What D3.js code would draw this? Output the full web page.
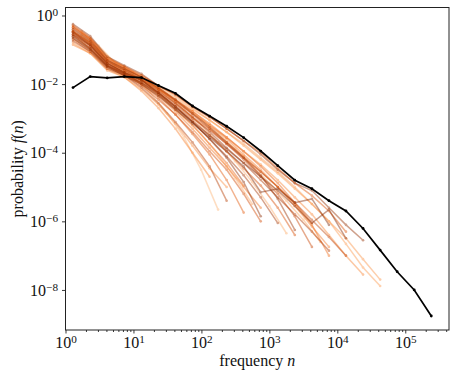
<!DOCTYPE html>
<html>
<head>
<meta charset="utf-8">
<script src="https://cdn.jsdelivr.net/npm/d3@7"></script>
<style>
  body { margin: 0; background: #fff; }
  svg { font-family: "Liberation Serif", serif; }
</style>
</head>
<body>
<div class="chart"></div>
<script>

// log-spaced bin centres (frequency n)
const binsN = [1.29, 2.31, 4.11, 7.33, 13.1, 23.3, 41.5, 74.0, 132, 235, 419, 746, 1330, 2370,
    4230, 7530, 13400, 23900, 42700, 76000, 135500, 241500]
// some groups were binned half a step later
const binsHalf = [1.73, 3.08, 5.49, 9.79, 17.5, 31.1, 55.5, 98.9, 176, 314, 560, 998, 1780, 3170, 5650]

// pooled distribution (black)
const totalF = [7.9e-3, 1.66e-2, 1.51e-2, 1.66e-2, 1.55e-2, 9.1e-3, 5.4e-3, 2.3e-3, 1.17e-3, 5.9e-4,
    2.75e-4, 1.12e-4, 4.2e-5, 1.58e-5, 8.9e-6, 4.0e-6, 2.0e-6, 6.2e-7, 1.45e-7, 3.4e-8, 1.0e-8, 1.74e-9]

// single groups on the half-step bins
const halfF = [
    [2.5e-1, 8.9e-2, 3.2e-2, 1.6e-2, 5.6e-3, 1.4e-3, 2.8e-4, 3.2e-5, 2.2e-6],
    [3.2e-1, 1.1e-1, 4.0e-2, 2.0e-2, 1.0e-2, 4.5e-3, 1.8e-3, 6.3e-4, 2.0e-4, 5.6e-5, 1.4e-5, 2.8e-6, 4.5e-7],
    [2.8e-1, 1.0e-1, 3.5e-2, 1.8e-2, 7.9e-3, 3.2e-3, 1.1e-3, 3.5e-4, 8.9e-5, 1.8e-5, 3.2e-6],
    [3.5e-1, 1.3e-1, 4.0e-2, 2.2e-2, 1.1e-2, 5.0e-3, 2.2e-3, 8.9e-4, 3.5e-4, 1.3e-4, 4.0e-5, 1.3e-5, 4.0e-6, 1.1e-6, 2.5e-7]
]

// single groups on the regular bins
const groupF = [
    [4.0e-1, 1.8e-1, 5.0e-2, 2.8e-2, 1.6e-2, 7.9e-3, 4.0e-3, 1.8e-3, 8.9e-4, 4.0e-4, 1.8e-4, 7.1e-5, 2.8e-5, 1.0e-5, 3.2e-6, 1.0e-6, 2.2e-7, 4.5e-8, 1.3e-8],
    [5.0e-1, 2.2e-1, 6.3e-2, 3.2e-2, 1.8e-2, 8.9e-3, 4.5e-3, 2.0e-3, 8.9e-4, 4.0e-4, 1.6e-4, 6.3e-5, 2.5e-5, 8.9e-6, 3.2e-6, 1.0e-6, 3.2e-7, 7.9e-8, 2.0e-8],
    [1.6e-1, 7.9e-2, 2.8e-2, 1.6e-2, 7.1e-3, 2.5e-3, 7.1e-4, 1.6e-4, 3.5e-5, 1.0e-5],
    [3.5e-1, 1.6e-1, 4.5e-2, 2.5e-2, 1.4e-2, 7.1e-3, 3.2e-3, 1.4e-3, 6.3e-4, 2.8e-4, 1.1e-4, 4.5e-5, 1.6e-5, 5.0e-6, 1.6e-6, 4.0e-7, 1.0e-7, 2.8e-8],
    [1.4e-1, 7.9e-2, 2.5e-2, 1.6e-2, 6.3e-3, 2.0e-3, 5.0e-4, 1.0e-4, 2.0e-5],
    [4.5e-1, 2.0e-1, 5.6e-2, 3.2e-2, 1.6e-2, 7.9e-3, 3.5e-3, 1.6e-3, 6.3e-4, 2.5e-4, 8.9e-5, 3.2e-5, 1.0e-5, 2.8e-6, 7.1e-7, 1.8e-7],
    [2.2e-1, 1.0e-1, 3.2e-2, 1.8e-2, 1.0e-2, 4.5e-3, 1.6e-3, 5.0e-4, 1.4e-4, 4.0e-5, 1.0e-5, 2.5e-6],
    [3.2e-1, 1.4e-1, 4.0e-2, 2.2e-2, 1.3e-2, 6.3e-3, 2.8e-3, 1.1e-3, 5.0e-4, 2.0e-4, 7.9e-5, 2.8e-5, 1.0e-5, 3.2e-6, 7.9e-7, 1.0e-7],
    [2.8e-1, 1.1e-1, 3.5e-2, 2.0e-2, 1.1e-2, 5.0e-3, 1.8e-3, 6.3e-4, 1.8e-4, 5.0e-5, 1.1e-5],
    [3.5e-1, 1.6e-1, 4.5e-2, 2.5e-2, 1.4e-2, 7.1e-3, 3.5e-3, 1.6e-3, 7.1e-4, 2.8e-4, 1.1e-4, 4.0e-5, 1.3e-5, 3.5e-6, 8.9e-7],
    [2.5e-1, 1.1e-1, 3.5e-2, 2.0e-2, 1.0e-2, 4.0e-3, 1.3e-3, 3.5e-4, 8.9e-5, 1.6e-5, 1.8e-6],
    [5.0e-1, 2.2e-1, 5.6e-2, 3.2e-2, 1.8e-2, 8.9e-3, 5.0e-3, 2.2e-3, 1.1e-3, 5.0e-4, 2.2e-4, 1.0e-4, 3.5e-5, 1.3e-5, 5.6e-6, 2.0e-6, 5.0e-7],
    [3.2e-1, 1.4e-1, 4.0e-2, 2.2e-2, 1.3e-2, 5.6e-3, 2.2e-3, 8.9e-4, 3.2e-4, 1.1e-4, 3.5e-5, 1.1e-5, 2.5e-6, 4.0e-7],
    [2.0e-1, 8.9e-2, 3.2e-2, 1.8e-2, 8.9e-3, 3.5e-3, 1.3e-3, 4.0e-4, 1.1e-4, 3.2e-5, 6.3e-6, 1.0e-6],
    [4.5e-1, 2.0e-1, 5.0e-2, 2.8e-2, 1.6e-2, 7.1e-3, 3.2e-3, 1.3e-3, 5.0e-4, 1.8e-4, 6.3e-5, 2.0e-5, 6.3e-6, 1.4e-6, 1.8e-7],
    [2.8e-1, 1.3e-1, 3.5e-2, 2.0e-2, 1.1e-2, 5.6e-3, 2.5e-3, 1.0e-3, 4.5e-4, 1.8e-4, 7.1e-5, 2.8e-5, 1.0e-5, 3.5e-6, 1.1e-6, 3.5e-7, 1.0e-7],
    [1.8e-1, 8.9e-2, 2.8e-2, 1.8e-2, 7.9e-3, 2.8e-3, 7.9e-4, 2.0e-4, 4.0e-5, 4.0e-6],
    [3.5e-1, 1.6e-1, 4.5e-2, 2.5e-2, 1.4e-2, 6.3e-3, 2.8e-3, 1.1e-3, 4.0e-4, 1.4e-4, 5.0e-5, 1.6e-5, 5.0e-6, 1.6e-6, 5.0e-7, 1.4e-7],
    [2.8e-1, 1.3e-1, 4.0e-2, 2.2e-2, 1.3e-2, 5.6e-3, 2.2e-3, 7.9e-4, 2.5e-4, 7.9e-5, 2.2e-5, 5.0e-6, 8.9e-7],
    [4.0e-1, 1.8e-1, 5.0e-2, 2.8e-2, 1.6e-2, 7.9e-3, 3.5e-3, 1.4e-3, 5.6e-4, 2.0e-4, 7.1e-5, 2.2e-5, 4.5e-6, 5.6e-7],
    [5.6e-1, 2.5e-1, 6.3e-2, 3.5e-2, 2.0e-2, 8.9e-3, 5.0e-3, 2.2e-3, 1.1e-3, 5.0e-4, 2.2e-4, 8.9e-5, 3.2e-5, 1.3e-5, 7.9e-6, 2.5e-6, 7.9e-7, 2.8e-7],
    [3.2e-1, 1.4e-1, 4.0e-2, 2.2e-2, 1.3e-2, 5.6e-3, 2.2e-3, 7.9e-4, 2.5e-4, 7.1e-5, 1.4e-5, 1.4e-6],
    [2.5e-1, 1.1e-1, 3.5e-2, 2.0e-2, 1.1e-2, 5.0e-3, 2.0e-3, 7.9e-4, 3.2e-4, 1.3e-4, 5.0e-5, 2.0e-5, 7.9e-6, 2.8e-6, 8.9e-7, 2.2e-6, 3.2e-7],
    [2.2e-1, 1.0e-1, 3.2e-2, 1.8e-2, 1.0e-2, 4.5e-3, 1.8e-3, 7.1e-4, 2.8e-4, 1.1e-4, 4.0e-5, 7.1e-6, 8.9e-6, 3.5e-6, 4.5e-6, 7.9e-7]
]

const xTicks = [1, 10, 100, 1e3, 1e4, 1e5]
const yTicks = [1, 1e-2, 1e-4, 1e-6, 1e-8]


const margin = ({ top: 7.5, right: 8, bottom: 49, left: 65.5 })
const width = 457 - margin.left - margin.right,
    height = 379 - margin.top - margin.bottom;

let svg = d3.select(".chart").append("svg")
    .attr("width", width + margin.left + margin.right)
    .attr("height", height + margin.top + margin.bottom)
    .append("g")
    .attr("transform", "translate(" + margin.left + "," + margin.top + ")");

let xScale = d3.scaleLog()
    .domain([1, 4.4e5])
    .range([0, width])

let yScale = d3.scaleLog()
    .domain([6.8e-10, 1.71])
    .range([height, 0])

let line = d3.line()
    .x(d => xScale(d[0]))
    .y(d => yScale(d[1]))

// pair each group with its bins
let groups = halfF.map(f => f.map((v, i) => [binsHalf[i], v]))
    .concat(groupF.map(f => f.map((v, i) => [binsN[i], v])))

let shade = i => d3.interpolateOranges(0.35 + 0.65 * i / (groups.length - 1))

let g = svg.selectAll(".grp")
    .data(groups)
    .join("g")
    .attr("class", "grp")
    .attr("opacity", 0.45)

g.append("path")
    .attr("d", line)
    .attr("fill", "none")
    .attr("stroke", (d, i) => shade(i))
    .attr("stroke-width", 1.5)

g.selectAll("circle")
    .data(d => d)
    .join("circle")
    .attr("cx", d => xScale(d[0]))
    .attr("cy", d => yScale(d[1]))
    .attr("r", 1.3)
    .attr("fill", function () { return d3.select(this.parentNode).select("path").attr("stroke") })

// pooled
let total = totalF.map((v, i) => [binsN[i], v])
svg.append("path")
    .datum(total)
    .attr("d", line)
    .attr("fill", "none")
    .attr("stroke", "#000")
    .attr("stroke-width", 1.7)

svg.selectAll(".dot")
    .data(total)
    .join("circle")
    .attr("class", "dot")
    .attr("cx", d => xScale(d[0]))
    .attr("cy", d => yScale(d[1]))
    .attr("r", 1.4)
    .attr("fill", "#000")

// axes
function powLabel(sel) {
    sel.each(function (d) {
        let e = Math.round(Math.log10(d))
        let t = d3.select(this).text("10")
        t.append("tspan")
            .attr("dy", "-0.45em")
            .attr("font-size", "0.7em")
            .text(e < 0 ? "\u2212" + (-e) : e)
    })
}

let xMinor = []
for (let dec = 1; dec <= 1e5; dec *= 10)
    for (let m = 2; m <= 9; m++)
        if (m * dec <= 4.4e5) xMinor.push(m * dec)

svg.append("g")
    .attr("transform", `translate(0, ${height})`)
    .call(d3.axisBottom(xScale).tickValues(xMinor).tickSize(2).tickFormat(""))
    .call(a => a.select(".domain").remove())

let xAx = svg.append("g")
    .attr("class", "axis x-axis")
    .attr("transform", `translate(0, ${height})`)
    .call(d3.axisBottom(xScale).tickValues(xTicks).tickSize(3.5).tickPadding(3))
xAx.select(".domain").remove()
xAx.selectAll("text").attr("font-family", "Liberation Serif").attr("font-size", 16).attr("fill", "#111").call(powLabel)

let yAx = svg.append("g")
    .attr("class", "axis y-axis")
    .call(d3.axisLeft(yScale).tickValues(yTicks).tickSize(3.5).tickPadding(4))
yAx.select(".domain").remove()
yAx.selectAll("text").attr("font-family", "Liberation Serif").attr("font-size", 16).attr("fill", "#111").call(powLabel)

svg.selectAll(".tick line").attr("stroke", "#222").attr("stroke-width", 0.9)

// frame
svg.append("rect")
    .attr("width", width)
    .attr("height", height)
    .attr("fill", "none")
    .attr("stroke", "#222")
    .attr("stroke-width", 1)

// labels
let xl = svg.append("text")
    .attr("x", width / 2)
    .attr("y", height + 36)
    .attr("text-anchor", "middle")
    .attr("font-size", 16)
    .attr("fill", "#111")
    .text("frequency ")
xl.append("tspan").attr("font-style", "italic").text("n")

let yl = svg.append("text")
    .attr("transform", `translate(${-43}, ${height / 2}) rotate(-90)`)
    .attr("text-anchor", "middle")
    .attr("font-size", 16)
    .attr("fill", "#111")
    .text("probability ")
yl.append("tspan").attr("font-style", "italic").text("f")
yl.append("tspan").text("(")
yl.append("tspan").attr("font-style", "italic").text("n")
yl.append("tspan").text(")")

</script>
</body>
</html>
